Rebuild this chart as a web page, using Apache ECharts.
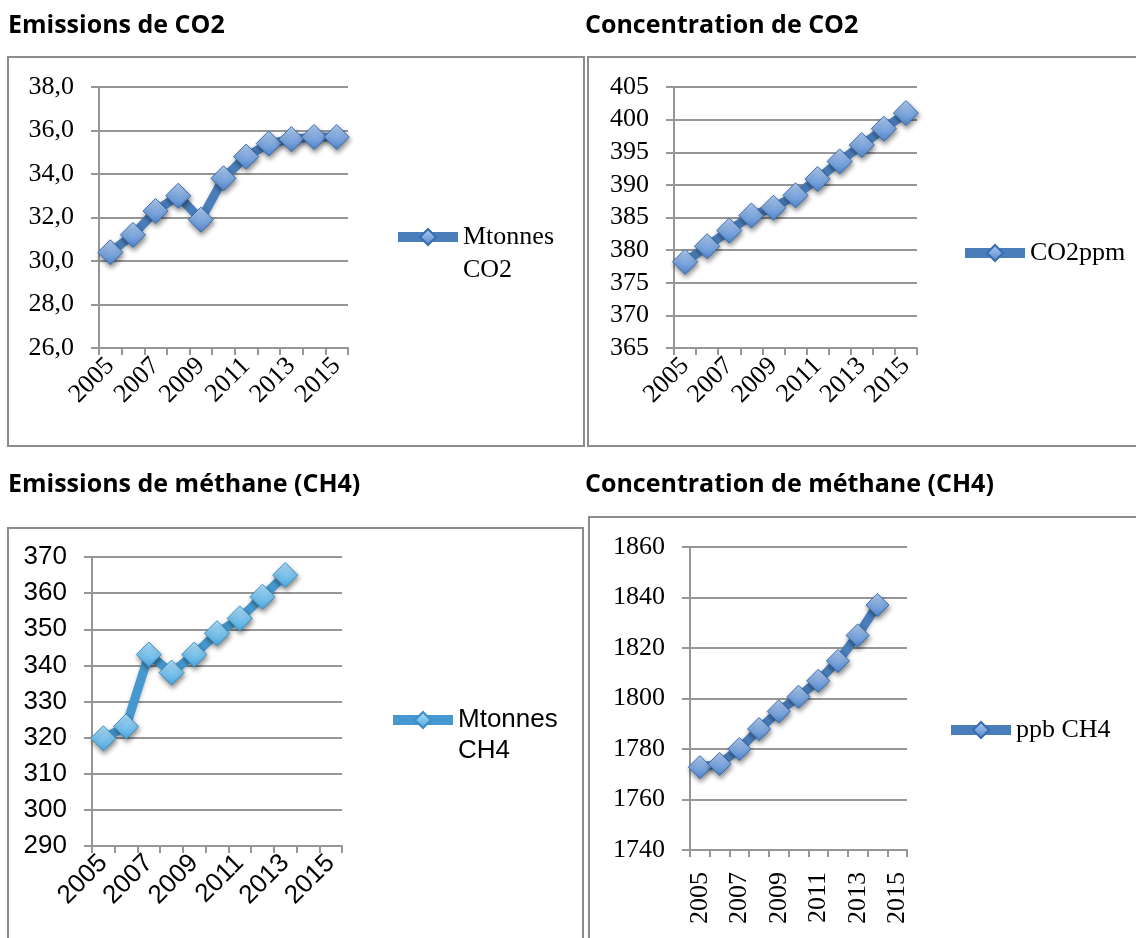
<!DOCTYPE html>
<html><head><meta charset="utf-8">
<script src="https://cdn.jsdelivr.net/npm/echarts@6/dist/echarts.min.js"></script>
<style>html,body{margin:0;padding:0;background:#fff}#c{width:1136px;height:938px}</style>
</head><body><div id="c"></div>
<script>
// ---- data ----
const years = ['2005','2006','2007','2008','2009','2010','2011','2012','2013','2014','2015'];
const co2Emissions = [30.4, 31.2, 32.3, 33.0, 31.9, 33.8, 34.8, 35.4, 35.6, 35.7, 35.7];
const co2Concentration = [378.2, 380.6, 383.0, 385.3, 386.5, 388.4, 390.9, 393.6, 396.1, 398.6, 401.0];
const ch4Emissions = [319.8, 323.1, 343.0, 338.0, 343.0, 348.9, 353.0, 359.0, 365.0];
const ch4Concentration = [1772.8, 1774.1, 1780.0, 1787.9, 1794.9, 1800.7, 1807.0, 1814.9, 1825.0, 1837.0];
const co2EmTicks = [26, 28, 30, 32, 34, 36, 38];
const co2ConcTicks = [365, 370, 375, 380, 385, 390, 395, 400, 405];
const ch4EmTicks = [290, 300, 310, 320, 330, 340, 350, 360, 370];
const ch4ConcTicks = [1740, 1760, 1780, 1800, 1820, 1840, 1860];
const titles = ['Emissions de CO2', 'Concentration de CO2', 'Emissions de méthane (CH4)', 'Concentration de méthane (CH4)'];
const seriesNames = ['Mtonnes\nCO2', 'CO2ppm', 'Mtonnes\nCH4', 'ppb CH4'];

// ---- styles / layout ----
const SERIF = '"Liberation Serif", "Times New Roman", serif';
const SANS = '"Liberation Sans", Arial, sans-serif';
const GRIDC = '#969696';
const chart = echarts.init(document.getElementById('c'));

function grad(c1, c2) {
  return new echarts.graphic.LinearGradient(0, 0, 0, 1, [{offset: 0, color: c1}, {offset: 1, color: c2}]);
}
const panels = [
  {grid: {left: 99, top: 87, width: 249, height: 261}, ticks: co2EmTicks, data: co2Emissions, font: SERIF, rotate: 45, xMargin: 14,
   fmt: v => v.toFixed(1).replace('.', ','), line: '#4a7ebb', mk1: '#b4cff2', mk2: '#4f84cc', mkb: '#3a6cae', size: 25,
   legend: {left: 393, top: 187.5, lh: 33}},
  {grid: {left: 674, top: 87, width: 243, height: 261}, ticks: co2ConcTicks, data: co2Concentration, font: SERIF, rotate: 45, xMargin: 14,
   fmt: v => String(v), line: '#4a7ebb', mk1: '#b4cff2', mk2: '#4f84cc', mkb: '#3a6cae', size: 25,
   legend: {left: 960, top: 236.5, lh: 33}},
  {grid: {left: 92, top: 557, width: 250, height: 289}, ticks: ch4EmTicks, data: ch4Emissions, font: SANS, rotate: 45, xMargin: 13,
   fmt: v => String(v), line: '#4699cf', mk1: '#b2e1fa', mk2: '#4aa7df', mkb: '#3a8fc4', size: 25,
   legend: {left: 388, top: 673.5, lh: 31}},
  {grid: {left: 690, top: 547, width: 217, height: 303}, ticks: ch4ConcTicks, data: ch4Concentration, font: SERIF, rotate: 90, xMargin: 22,
   fmt: v => String(v), line: '#4a7ebb', mk1: '#b4cff2', mk2: '#4f84cc', mkb: '#3a6cae', size: 23,
   legend: {left: 946, top: 713.5, lh: 33}}
];

const option = {
  backgroundColor: '#fff',
  animation: false,
  title: [
    {text: titles[0], left: 8, top: 13},
    {text: titles[1], left: 585, top: 13},
    {text: titles[2], left: 8, top: 472},
    {text: titles[3], left: 585, top: 472}
  ].map(t => Object.assign(t, {padding: 0, textStyle: {fontFamily: '"Open Sans", sans-serif', fontWeight: 'bold', fontSize: 25, color: '#000'}})),
  graphic: [
    {type: 'rect', shape: {x: 8, y: 57, width: 576, height: 389}, style: {fill: 'none', stroke: '#8c8c8c', lineWidth: 2}, silent: true, z: -1},
    {type: 'rect', shape: {x: 588, y: 57, width: 620, height: 389}, style: {fill: 'none', stroke: '#8c8c8c', lineWidth: 2}, silent: true, z: -1},
    {type: 'rect', shape: {x: 8, y: 528, width: 575, height: 500}, style: {fill: 'none', stroke: '#8c8c8c', lineWidth: 2}, silent: true, z: -1},
    {type: 'rect', shape: {x: 589, y: 517, width: 620, height: 500}, style: {fill: 'none', stroke: '#8c8c8c', lineWidth: 2}, silent: true, z: -1}
  ],
  grid: panels.map(p => p.grid),
  xAxis: panels.map((p, i) => ({
    type: 'category', gridIndex: i, data: years, boundaryGap: true,
    axisLine: {show: true, lineStyle: {color: GRIDC, width: 2}},
    axisTick: {show: true, interval: 0, length: 7, lineStyle: {color: GRIDC, width: 2}},
    axisLabel: {interval: 1, rotate: p.rotate, margin: p.xMargin, fontFamily: p.font, fontSize: 26, color: '#000'},
    splitLine: {show: false}
  })),
  yAxis: panels.map((p, i) => ({
    type: 'value', gridIndex: i, min: p.ticks[0], max: p.ticks[p.ticks.length - 1], interval: p.ticks[1] - p.ticks[0],
    axisLine: {show: true, lineStyle: {color: GRIDC, width: 2}},
    axisTick: {show: true, length: 8, lineStyle: {color: GRIDC, width: 2}},
    axisLabel: {margin: 25, fontFamily: p.font, fontSize: 26, color: '#000', formatter: p.fmt},
    splitLine: {show: true, lineStyle: {color: GRIDC, width: 2}}
  })),
  legend: panels.map((p, i) => ({
    data: [seriesNames[i]], left: p.legend.left, top: p.legend.top, padding: 0, itemGap: 0,
    itemWidth: 60, itemHeight: 20,
    lineStyle: {width: 10},
    formatter: name => (name.indexOf('\n') >= 0 ? '\n' + name : name),
    textStyle: {fontFamily: p.font, fontSize: 26, color: '#000', lineHeight: p.legend.lh}
  })),
  series: panels.map((p, i) => ({
    type: 'line', name: seriesNames[i], xAxisIndex: i, yAxisIndex: i, data: p.data,
    symbol: 'diamond', symbolSize: p.size, showAllSymbol: true,
    lineStyle: {color: p.line, width: 9, shadowColor: 'rgba(0,0,0,0.25)', shadowBlur: 4, shadowOffsetY: 2},
    itemStyle: {color: grad(p.mk1, p.mk2), borderColor: p.mkb, borderWidth: 1,
      shadowColor: 'rgba(0,0,0,0.45)', shadowBlur: 5, shadowOffsetX: 1, shadowOffsetY: 3},
    emphasis: {disabled: true}
  }))
};
chart.setOption(option);
</script></body></html>
